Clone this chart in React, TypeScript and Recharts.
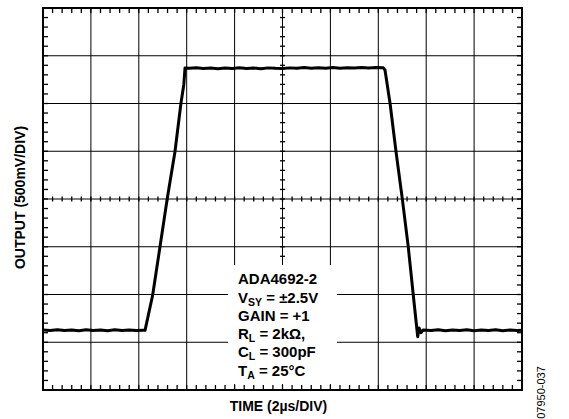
import React from "react";
import {
  ComposedChart,
  Line,
  Scatter,
  XAxis,
  YAxis,
  ReferenceLine,
  ReferenceArea,
} from "recharts";

// trace: time in µs, output in V
const traceTime = [
  0, 0.3, 0.6, 0.9, 1.2, 1.5, 1.8, 2.1, 2.4, 2.7, 3.0, 3.3, 3.6, 3.9, 4.2,
  4.26, 4.58, 4.885, 5.19, 5.51, 5.76, 5.88, 5.93,
  6.1, 6.4, 6.7, 7.0, 7.3, 7.6, 7.9, 8.2, 8.5, 8.8, 9.1, 9.4, 9.7, 10.0,
  10.3, 10.6, 10.9, 11.2, 11.5, 11.8, 12.1, 12.4, 12.7, 13.0, 13.3, 13.6, 13.9,
  14.21, 14.28, 14.49, 14.74, 15.0, 15.25, 15.46, 15.645, 15.7, 15.78, 15.87,
  16.2, 16.5, 16.8, 17.1, 17.4, 17.7, 18.0, 18.3, 18.6, 18.9, 19.2, 19.5, 19.8, 20,
];
const traceVolts = [
  -1.372, -1.378, -1.37, -1.378, -1.372, -1.38, -1.37, -1.377, -1.372, -1.379, -1.37, -1.377, -1.372, -1.378, -1.375,
  -1.375, -1.005, -0.499, 0.007, 0.495, 1.002, 1.2, 1.372,
  1.368, 1.374, 1.366, 1.372, 1.365, 1.372, 1.366, 1.374, 1.367, 1.372, 1.365, 1.373, 1.368, 1.366,
  1.373, 1.368, 1.376, 1.37, 1.375, 1.368, 1.376, 1.37, 1.375, 1.371, 1.377, 1.371, 1.376,
  1.374, 1.35, 1.002, 0.495, 0.007, -0.499, -1.005, -1.442, -1.35, -1.4, -1.372,
  -1.378, -1.37, -1.379, -1.372, -1.377, -1.37, -1.379, -1.372, -1.377, -1.37, -1.379, -1.372, -1.377, -1.375,
];

const gridTimes = [2, 4, 6, 8, 10, 12, 14, 16, 18];
const gridVolts = [-1.5, -1, -0.5, 0.5, 1, 1.5];

const minorTimes = Array.from({ length: 49 }, (_, i) => +(0.4 * (i + 1)).toFixed(1));
const minorVolts = Array.from({ length: 39 }, (_, i) => +(-1.9 + 0.1 * i).toFixed(1));

const trace = traceTime.map((t, i) => ({ t, v: traceVolts[i] }));
const bottomTicks = minorTimes.map((t) => ({ t, v: -2 }));
const topTicks = minorTimes.map((t) => ({ t, v: 2 }));
const midXTicks = minorTimes.map((t) => ({ t, v: 0 }));
const leftTicks = minorVolts.map((v) => ({ t: 0, v }));
const rightTicks = minorVolts.map((v) => ({ t: 20, v }));
const midYTicks = minorVolts.map((v) => ({ t: 10, v }));

const FONT = "'Liberation Sans', Arial, Helvetica, sans-serif";

const tick = (dx1: number, dy1: number, dx2: number, dy2: number) => (p: any) => (
  <line
    x1={p.cx + dx1}
    y1={p.cy + dy1}
    x2={p.cx + dx2}
    y2={p.cy + dy2}
    stroke="#000"
    strokeWidth={1.3}
  />
);

export default function App() {
  return (
    <div style={{ position: "absolute", left: 0, top: 0, width: 569, height: 419, background: "#fff" }}>
      <ComposedChart
        width={569}
        height={419}
        margin={{ top: 8, right: 47, bottom: 29, left: 43 }}
      >
        <XAxis dataKey="t" type="number" domain={[0, 20]} hide allowDataOverflow />
        <YAxis dataKey="v" type="number" domain={[-2, 2]} hide allowDataOverflow />
        {gridTimes.map((t) => (
          <ReferenceLine key={"gx" + t} x={t} stroke="#000" strokeWidth={1} />
        ))}
        {gridVolts.map((v) => (
          <ReferenceLine key={"gy" + v} y={v} stroke="#000" strokeWidth={1} />
        ))}
        <ReferenceLine x={10} stroke="#000" strokeWidth={1} />
        <ReferenceLine y={0} stroke="#000" strokeWidth={1} />
        <Scatter data={bottomTicks} dataKey="v" shape={tick(0, 0, 0, -5)} isAnimationActive={false} />
        <Scatter data={topTicks} dataKey="v" shape={tick(0, 0, 0, 5)} isAnimationActive={false} />
        <Scatter data={midXTicks} dataKey="v" shape={tick(0, -2.5, 0, 2.5)} isAnimationActive={false} />
        <Scatter data={leftTicks} dataKey="v" shape={tick(0, 0, 5, 0)} isAnimationActive={false} />
        <Scatter data={rightTicks} dataKey="v" shape={tick(0, 0, -5, 0)} isAnimationActive={false} />
        <Scatter data={midYTicks} dataKey="v" shape={tick(-2.5, 0, 2.5, 0)} isAnimationActive={false} />
        <ReferenceArea x1={0} x2={20} y1={-2} y2={2} fill="none" stroke="#000" strokeWidth={2} />
        <Line
          data={trace}
          dataKey="v"
          type="linear"
          stroke="#000"
          strokeWidth={3}
          strokeLinejoin="round"
          dot={false}
          isAnimationActive={false}
        />
      </ComposedChart>
      <svg
        width={569}
        height={419}
        style={{ position: "absolute", left: 0, top: 0, pointerEvents: "none" }}
        fontFamily={FONT}
      >
        <rect x={228} y={265} width={109} height={119} fill="#fff" />
        <g fontSize={15} fontWeight="bold" fill="#000">
          <text x={238} y={284}>ADA4692-2</text>
          <text x={238} y={302.5}>
            V<tspan fontSize={10.5} dy={3}>SY</tspan>
            <tspan dy={-3}> = ±2.5V</tspan>
          </text>
          <text x={238} y={320.7}>GAIN = +1</text>
          <text x={238} y={339.3}>
            R<tspan fontSize={10.5} dy={3}>L</tspan>
            <tspan dy={-3}> = 2kΩ,</tspan>
          </text>
          <text x={238} y={357.3}>
            C<tspan fontSize={10.5} dy={3}>L</tspan>
            <tspan dy={-3}> = 300pF</tspan>
          </text>
          <text x={238} y={376}>
            T<tspan fontSize={10.5} dy={3}>A</tspan>
            <tspan dy={-3}> = 25°C</tspan>
          </text>
        </g>
        <text x={278.5} y={411} textAnchor="middle" fontSize={14} fontWeight="bold">
          TIME (2µs/DIV)
        </text>
        <text
          x={25}
          y={197.5}
          textAnchor="middle"
          fontSize={14}
          fontWeight="bold"
          transform="rotate(-90 25 197.5)"
        >
          OUTPUT (500mV/DIV)
        </text>
        <text
          x={545}
          y={392.5}
          textAnchor="middle"
          fontSize={11}
          transform="rotate(-90 545 392.5)"
        >
          07950-037
        </text>
      </svg>
    </div>
  );
}
